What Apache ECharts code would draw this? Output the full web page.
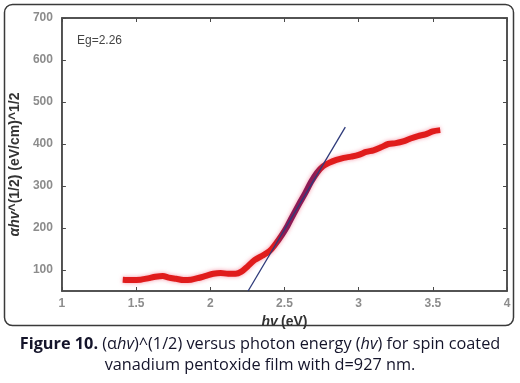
<!DOCTYPE html>
<html><head><meta charset="utf-8">
<script src="https://cdn.jsdelivr.net/npm/echarts@6/dist/echarts.min.js"></script>
<style>html,body{margin:0;padding:0;background:#fff}#c{width:520px;height:383px}</style>
</head><body><div id="c"></div>
<script>
const hv = [1.41,1.47,1.53,1.58,1.63,1.68,1.72,1.77,1.82,1.87,1.92,1.97,2.02,2.07,2.12,2.17,2.21,2.25,2.30,2.35,2.40,2.44,2.48,2.52,2.56,2.60,2.64,2.68,2.72,2.76,2.80,2.85,2.90,2.95,3.00,3.05,3.10,3.15,3.20,3.25,3.30,3.35,3.40,3.45,3.50,3.55];
const ahv = [77,76,77,80,84,86,82,79,76,77,81,86,91,93,91,91,96,108,124,134,145,162,182,205,232,258,283,310,332,347,355,362,367,370,374,381,385,392,400,402,406,413,419,423,430,433];
const fitX = [2.255, 2.91];
const fitY = [50, 440];
const xTicks = [1,1.5,2,2.5,3,3.5,4];
const yTicks = [100,200,300,400,500,600,700];
const egLabel = 'Eg=2.26';

const chart = echarts.init(document.getElementById('c'));
const lblFont = {color:'#8c8c8c', fontSize:12, fontWeight:'bold', fontFamily:'Liberation Sans, Arial'};
const frame = {lineStyle:{color:'#4a4a4a', width:1.5}};
const capFont = 'Open Sans';
const capColor = '#14142a';
const capSize = 16.3;
const redGrad = new echarts.graphic.LinearGradient(0,0,1,0,[
  {offset:0, color:'#e01c1c'},{offset:0.47, color:'#e01c1c'},{offset:0.51, color:'#8c1a55'},
  {offset:0.60, color:'#8c1a55'},{offset:0.64, color:'#e01c1c'},{offset:1, color:'#e01c1c'}]);
const axName = {fontWeight:'bold', fontSize:14, color:'#333', fontFamily:'Liberation Sans, Arial'};
chart.setOption({
  animation:false,
  grid:{left:54, right:13, top:18, bottom:92, show:true, borderColor:'#4a4a4a', borderWidth:1.5},
  graphic:[
    {type:'rect', shape:{x:4.5,y:4.5,width:509,height:321,r:8}, style:{fill:null, stroke:'#3a3a3a', lineWidth:1.5}, silent:true, z:-1},
    {type:'text', left:77, top:35, style:{text:egLabel, fill:'#444', fontSize:12, fontFamily:'Liberation Sans, Arial'}},
    {type:'text', x:260, y:334, style:{
      text:'{b|Figure 10.} {n|(α}{i|hv}{n|)^(1/2) versus photon energy (}{i|hv}{n|) for spin coated}\n{n|vanadium pentoxide film with d=927 nm.}',
      align:'center', verticalAlign:'top', fill:capColor, fontSize:capSize, fontFamily:capFont, lineHeight:21,
      rich:{
        b:{fontWeight:'bold', fontSize:capSize, fill:capColor, fontFamily:capFont, lineHeight:21},
        n:{fontWeight:'normal', fontSize:capSize, fill:capColor, fontFamily:capFont, lineHeight:21},
        i:{fontWeight:'normal', fontStyle:'italic', fontSize:capSize, fill:capColor, fontFamily:capFont, lineHeight:21}
      }}}
  ],
  xAxis:[{
    type:'value', min:1, max:4, interval:0.5,
    axisLine:frame, axisTick:{inside:true, length:4, lineStyle:{color:'#4a4a4a'}},
    axisLabel:Object.assign({margin:7, customValues:xTicks}, lblFont),
    splitLine:{show:false},
    name:'{i|hv} {n|(eV)}', nameLocation:'middle', nameGap:18,
    nameTextStyle:{rich:{i:Object.assign({fontStyle:'italic'}, axName), n:axName}}
  },{
    type:'value', position:'top', min:1, max:4, interval:0.5,
    axisLine:frame, axisTick:{inside:true, length:4, lineStyle:{color:'#4a4a4a'}},
    axisLabel:{show:false}, splitLine:{show:false}
  }],
  yAxis:[{
    type:'value', min:50, max:700,
    axisLine:{show:true, lineStyle:{color:'#4a4a4a', width:1.5}},
    axisTick:{inside:true, length:4, customValues:yTicks, lineStyle:{color:'#4a4a4a'}},
    axisLabel:Object.assign({margin:9, customValues:yTicks}, lblFont),
    splitLine:{show:false},
    name:'{i|αhv}{n|^(1/2) (eV/cm)^1/2}', nameLocation:'middle', nameGap:30,
    nameTextStyle:{padding:[0,20,0,0], rich:{i:Object.assign({fontStyle:'italic'}, axName), n:axName}}
  },{
    type:'value', position:'right', min:50, max:700,
    axisLine:{show:true, lineStyle:{color:'#4a4a4a', width:1.5}},
    axisTick:{inside:true, length:4, customValues:yTicks, lineStyle:{color:'#4a4a4a'}},
    axisLabel:{show:false}, splitLine:{show:false}
  }],
  series:[{
    type:'line', data:hv.map((x,i)=>[x,ahv[i]]), showSymbol:false, smooth:0.3,
    lineStyle:{color:redGrad, width:6, shadowColor:'rgba(240,80,110,0.6)', shadowBlur:4}
  },{
    type:'line', data:fitX.map((x,i)=>[x,fitY[i]]), showSymbol:false,
    lineStyle:{color:'#2e3a7a', width:1.3}
  }]
});
</script></body></html>
